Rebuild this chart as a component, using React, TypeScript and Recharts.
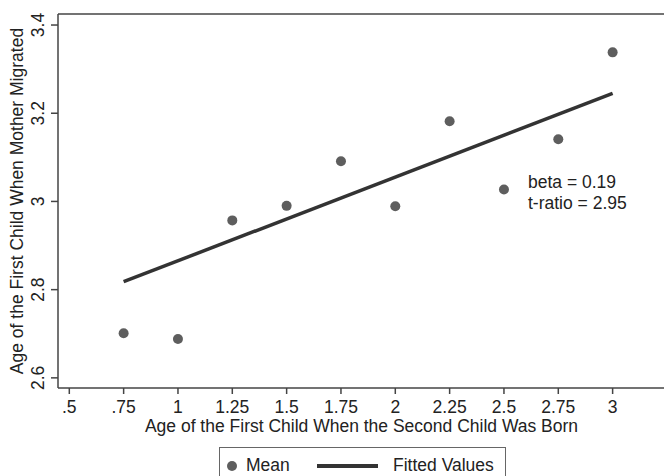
import React from 'react';
import { ComposedChart, Scatter, Line, XAxis, YAxis, ReferenceLine, Legend } from 'recharts';

// binned means
const ageAtSecondBirth = [0.75, 1, 1.25, 1.5, 1.75, 2, 2.25, 2.5, 2.75, 3];
const meanAgeAtMigration = [2.701, 2.688, 2.957, 2.99, 3.091, 2.989, 3.182, 3.027, 3.141, 3.338];

// fitted line end points
const fittedX = [0.75, 3];
const fittedY = [2.818, 3.245];

const xTicks = [0.5, 0.75, 1, 1.25, 1.5, 1.75, 2, 2.25, 2.5, 2.75, 3];
const xTickLabels = ['.5', '.75', '1', '1.25', '1.5', '1.75', '2', '2.25', '2.5', '2.75', '3'];
const yTicks = [2.6, 2.8, 3, 3.2, 3.4];
const yTickLabels = ['2.6', '2.8', '3', '3.2', '3.4'];

const meanData = ageAtSecondBirth.map((x, i) => ({ x, y: meanAgeAtMigration[i] }));
const fittedData = fittedX.map((x, i) => ({ x, y: fittedY[i] }));

const FONT = '"Liberation Sans", Arial, Helvetica, sans-serif';
const FS = 17.5;
const X_DOMAIN: [number, number] = [0.448, 3.241];
const Y_DOMAIN: [number, number] = [2.577, 3.425];

const YTick = (props: any) => {
  const { x, y, payload } = props;
  const i = yTicks.indexOf(payload.value);
  return (
    <text x={x} y={y} transform={`rotate(-90, ${x}, ${y})`} textAnchor="middle"
      fontSize={FS} fontFamily={FONT} fill="#222">
      {i >= 0 ? yTickLabels[i] : payload.value}
    </text>
  );
};

const YTitle = (props: any) => {
  const vb = props.viewBox;
  const cy = vb.y + vb.height / 2;
  return (
    <text x={23} y={cy} transform={`rotate(-90, 23, ${cy})`} textAnchor="middle"
      fontSize={FS} fontFamily={FONT} fill="#222">
      Age of the First Child When Mother Migrated
    </text>
  );
};

const LegendBox = () => (
  <div style={{ position: 'relative', width: 287, height: 40, border: '1px solid #666', background: '#fff',
    fontFamily: FONT, fontSize: FS, color: '#222', boxSizing: 'border-box' }}>
    <span style={{ position: 'absolute', left: 7, top: 13, width: 10, height: 10, borderRadius: 5, background: '#5e5e5e' }} />
    <span style={{ position: 'absolute', left: 26, top: 7, lineHeight: '20px' }}>Mean</span>
    <span style={{ position: 'absolute', left: 97, top: 16, width: 61, height: 3.5, background: '#333' }} />
    <span style={{ position: 'absolute', left: 173, top: 7, lineHeight: '20px' }}>Fitted Values</span>
  </div>
);

export default function App() {
  return (
    <div style={{ position: 'absolute', left: 0, top: 0, width: 664, height: 476, overflow: 'hidden', background: '#fff' }}>
      <ComposedChart width={672} height={476} margin={{ top: 14, right: 7, left: 0, bottom: 58 }}
        style={{ fontFamily: FONT }}>
        <XAxis type="number" dataKey="x" domain={X_DOMAIN} allowDataOverflow ticks={xTicks}
          tickFormatter={(v: number) => xTickLabels[xTicks.indexOf(v)] ?? String(v)}
          interval={0} height={30} tickSize={6} tickMargin={7}
          stroke="#444" strokeWidth={1.5}
          tick={{ fill: '#222', fontSize: FS, fontFamily: FONT }}
          label={{ value: 'Age of the First Child When the Second Child Was Born', position: 'bottom', offset: 2,
            fill: '#222', fontSize: FS, fontFamily: FONT }} />
        <YAxis type="number" domain={Y_DOMAIN} allowDataOverflow ticks={yTicks} interval={0}
          width={58} tickSize={7} tickMargin={7} stroke="#444" strokeWidth={1.5}
          tick={<YTick />} label={<YTitle />} />
        <ReferenceLine y={Y_DOMAIN[1]} stroke="#444" strokeWidth={1.5} ifOverflow="visible" />
        <Line data={fittedData} dataKey="y" type="linear" stroke="#333" strokeWidth={3.5}
          dot={false} activeDot={false} isAnimationActive={false} />
        <Scatter data={meanData} dataKey="y" fill="#5e5e5e" isAnimationActive={false}
          shape={(p: any) => <circle cx={p.cx} cy={p.cy} r={5} fill="#5e5e5e" />} />
        <Legend layout="horizontal" verticalAlign="middle" align="center"
          wrapperStyle={{ left: 219, top: 447, width: 287 }} content={() => <LegendBox />} />
      </ComposedChart>
      <div style={{ position: 'absolute', left: 528, top: 172, fontFamily: FONT, fontSize: FS, color: '#222', lineHeight: '20px' }}>
        beta = 0.19
      </div>
      <div style={{ position: 'absolute', left: 528, top: 193, fontFamily: FONT, fontSize: FS, color: '#222', lineHeight: '20px' }}>
        t-ratio = 2.95
      </div>
    </div>
  );
}
